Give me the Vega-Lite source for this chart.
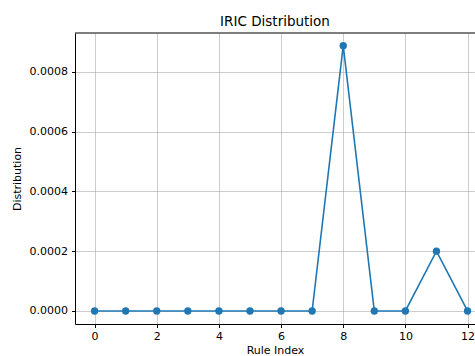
{
  "$schema": "https://vega.github.io/schema/vega-lite/v6.json",
  "autosize": "none",
  "width": 400,
  "height": 291,
  "padding": {"left": 75, "top": 33, "right": 0, "bottom": 32},
  "background": "white",
  "title": {"text": "IRIC Distribution", "font": "DejaVu Sans", "fontSize": 13.5, "fontWeight": "normal", "color": "#000000", "anchor": "middle", "offset": 4, "frame": "group"},
  "config": {
    "view": {"stroke": null},
    "axis": {
      "labelFont": "DejaVu Sans", "labelFontSize": 11, "labelColor": "#000000",
      "titleFont": "DejaVu Sans", "titleFontSize": 11, "titleFontWeight": "normal", "titleColor": "#000000",
      "domainColor": "#000000", "domainWidth": 1, "tickColor": "#000000", "tickSize": 3.5, "tickWidth": 1,
      "gridColor": "#b0b0b0", "gridOpacity": 0.8, "gridWidth": 0.8
    }
  },
  "data": {"values": [
    {"rule": 0, "value": 0},
    {"rule": 1, "value": 0},
    {"rule": 2, "value": 0},
    {"rule": 3, "value": 0},
    {"rule": 4, "value": 0},
    {"rule": 5, "value": 0},
    {"rule": 6, "value": 0},
    {"rule": 7, "value": 0},
    {"rule": 8, "value": 0.000887},
    {"rule": 9, "value": 0},
    {"rule": 10, "value": 0},
    {"rule": 11, "value": 0.0002},
    {"rule": 12, "value": 0}
  ]},
  "encoding": {
    "x": {"field": "rule", "type": "quantitative",
      "scale": {"domain": [-0.63, 12.24], "nice": false, "zero": false},
      "axis": {"title": "Rule Index", "values": [0, 2, 4, 6, 8, 10, 12], "labelPadding": 3, "titlePadding": 3, "grid": true}},
    "y": {"field": "value", "type": "quantitative",
      "scale": {"domain": [-0.0000435, 0.0009293], "nice": false, "zero": false},
      "axis": {"title": "Distribution", "values": [0, 0.0002, 0.0004, 0.0006, 0.0008], "format": ".4f", "labelPadding": 4, "titlePadding": 7, "grid": true}}
  },
  "layer": [
    {"mark": {"type": "line", "color": "#1f77b4", "strokeWidth": 1.6}},
    {"mark": {"type": "point", "shape": "circle", "filled": true, "opacity": 1, "color": "#1f77b4", "size": 54}},
    {"data": {"values": [{"top": 0.0009293}]}, "mark": {"type": "rule", "color": "#000000", "strokeWidth": 1}, "encoding": {"y": {"field": "top", "type": "quantitative"}, "x": null}}
  ]
}
